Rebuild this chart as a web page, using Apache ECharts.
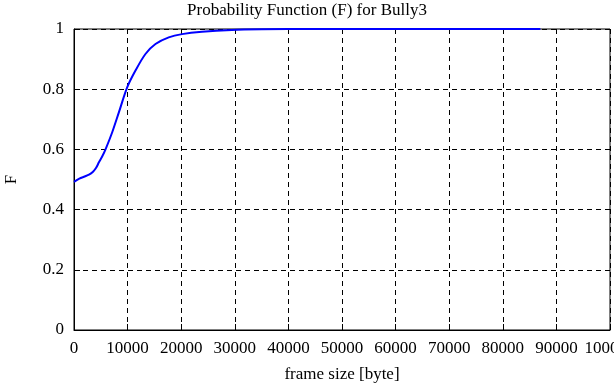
<!DOCTYPE html>
<html>
<head>
<meta charset="utf-8">
<script src="https://cdn.jsdelivr.net/npm/echarts@6/dist/echarts.min.js"></script>
<style>html,body{margin:0;padding:0;background:#fff}#c{width:614px;height:385px}</style>
</head>
<body>
<div id="c"></div>
<script>
var titleText = "Probability Function (F) for Bully3";
var xName = "frame size [byte]";
var yName = "F";
var frameSize = [0, 1000, 2000, 2800, 3500, 4100, 4650, 5300, 5900, 7130, 8370, 9920, 11470, 13330, 15200, 17670, 20150, 23870, 29450, 35000, 45000, 60000, 75000, 87000];
var probF =     [0.492, 0.503, 0.510, 0.516, 0.525, 0.538, 0.557, 0.578, 0.601, 0.657, 0.723, 0.806, 0.862, 0.917, 0.950, 0.972, 0.983, 0.991, 0.997, 0.999, 1.0, 1.0, 1.0, 1.0];

var font = "Liberation Serif";
var fs = 17;
var chart = echarts.init(document.getElementById('c'), null, {renderer: 'canvas'});
chart.setOption({
  animation: false,
  backgroundColor: '#fff',
  title: {
    text: titleText, left: 'center', top: 0, padding: [2, 5, 5, 5],
    textStyle: {fontFamily: font, fontSize: fs, fontWeight: 'normal', color: '#000'}
  },
  grid: {left: 74, right: 4, top: 29, bottom: 55, show: true, borderColor: '#000', borderWidth: 1,
         containLabel: false, outerBoundsMode: 'none'},
  xAxis: {
    type: 'value', min: 0, max: 100000, interval: 10000,
    name: xName, nameLocation: 'middle', nameGap: 36,
    nameTextStyle: {fontFamily: font, fontSize: fs, color: '#000'},
    axisLine: {show: true, lineStyle: {color: '#000'}},
    axisTick: {show: true, inside: true, length: 6, lineStyle: {color: '#000'}},
    axisLabel: {fontFamily: font, fontSize: fs, color: '#000', margin: 10, showMaxLabel: true,
                hideOverlap: false, formatter: function (v) { return String(v); }},
    splitLine: {show: true, lineStyle: {color: '#000', type: [5, 4], width: 1}}
  },
  yAxis: {
    type: 'value', min: 0, max: 1, interval: 0.2,
    name: yName, nameLocation: 'middle', nameGap: 54,
    nameTextStyle: {fontFamily: font, fontSize: fs, color: '#000'},
    axisLine: {show: true, lineStyle: {color: '#000'}},
    axisTick: {show: true, inside: true, length: 6, lineStyle: {color: '#000'}},
    axisLabel: {fontFamily: font, fontSize: fs, color: '#000', margin: 10,
                formatter: function (v) { return String(Math.round(v * 10) / 10); }},
    splitLine: {show: true, lineStyle: {color: '#000', type: [5, 4], width: 1}}
  },
  series: [{
    type: 'line', smooth: 0.3, symbol: 'none',
    data: frameSize.map(function (x, i) { return [x, probF[i]]; }),
    lineStyle: {color: '#0000ff', width: 2}
  }]
});
</script>
</body>
</html>
